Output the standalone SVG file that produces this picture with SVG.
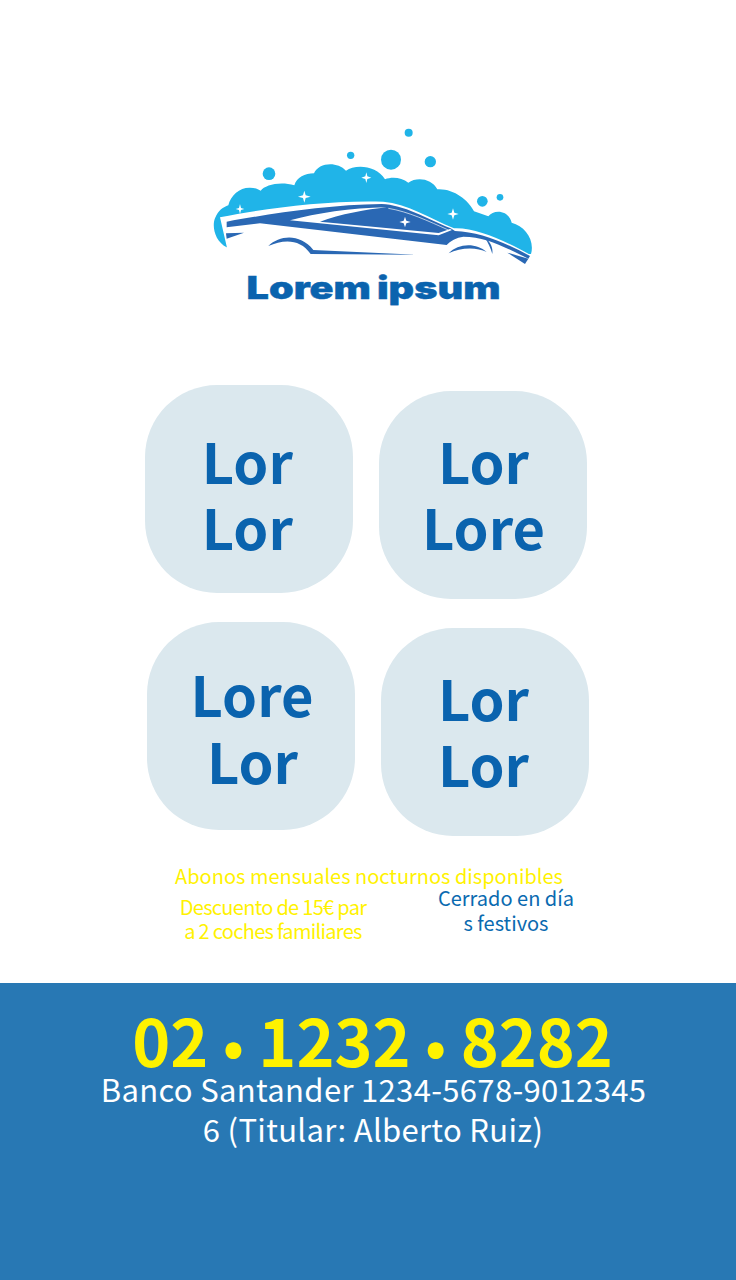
<svg xmlns="http://www.w3.org/2000/svg" width="736" height="1280" viewBox="0 0 736 1280">
<style>
text{font-family:"Noto Sans CJK JP","Noto Sans",sans-serif}
.card{fill:#dbe8ee}
.big{font-size:56px;font-weight:700;fill:#0a63ae;text-anchor:middle}
.foam{fill:#20b4e8}
.car{fill:#2a68b4}
.cut{fill:#fff}
.spark{fill:#fff}
.small{font-size:20px;text-anchor:middle}
</style>
<rect width="736" height="1280" fill="#fff"/>
<g id="logo">
<g transform="translate(200 120) scale(.33333)">
<path class="foam" d="M80 382C45 365 35 320 45 295C55 270 70 262 85 256C92 225 120 202 150 203C165 203 175 208 182 212C195 195 240 183 283 196C290 172 315 160 342 160C355 128 410 122 438 152C465 132 530 135 555 178C575 170 605 172 625 188C650 170 695 175 712 208C760 205 805 240 822 274L865 289C880 268 925 268 935 308C975 318 1005 360 993 402L700 400L100 380Z"/>
<circle class="foam" cx="207" cy="161" r="19"/>
<circle class="foam" cx="452" cy="106" r="11"/>
<circle class="foam" cx="573" cy="119" r="30"/>
<circle class="foam" cx="626" cy="38" r="12"/>
<circle class="foam" cx="691" cy="125" r="17"/>
<circle class="foam" cx="847" cy="244" r="16"/>
<circle class="foam" cx="900" cy="232" r="10"/>
<path class="cut" d="M60 292C200 265 380 240 550 245C620 250 690 295 762 325C830 322 920 365 992 405L972 442L860 410L300 412L82 388Z"/>
<path class="car" d="M80 305C200 283 380 254 545 252C610 254 680 295 752 325L765 333C840 335 920 370 990 408L985 416C920 385 860 350 790 350C770 352 750 364 740 375L180 310L80 322Z"/>
<path class="cut" d="M270 301C350 280 450 264 560 262C500 268 420 283 360 305L716 339L750 327L756 330L716 346Z"/>
<path fill="none" stroke="#fff" stroke-width="2" d="M565 265C625 275 685 303 745 330"/>
<path class="car" d="M78 340L132 338L80 356Z"/>
<path class="car" d="M205 378C240 345 300 340 340 390L650 404L332 402C300 355 250 358 205 378Z"/>
<path class="car" d="M746 400C775 368 830 368 860 396C830 380 780 382 746 400Z"/>
<path class="car" d="M855 354C872 365 880 385 877 402C872 385 865 368 855 354Z"/>
<path class="car" d="M922 398L985 416L975 432Z"/>
<path class="spark" d="M120 252L123 264L133 267L123 270L120 282L117 270L107 267L117 264Z"/>
<path class="spark" d="M313 212L317 226L332 230L317 234L313 248L309 234L294 230L309 226Z"/>
<path class="spark" d="M499 157L502 169L514 173L502 177L499 189L496 177L484 173L496 169Z"/>
<path class="spark" d="M759 265L763 278L776 282L763 286L759 299L755 286L742 282L755 278Z"/>
<path class="spark" d="M615 290L619 302L632 306L619 310L615 322L611 310L598 306L611 302Z"/>
</g>
<text x="373.500" y="299" font-size="31" font-weight="900" fill="#0a63ae" stroke="#0a63ae" stroke-width=".4" text-anchor="middle" textLength="254" lengthAdjust="spacingAndGlyphs" word-spacing="-1.5" style="font-family:Inter,'Liberation Sans',sans-serif">Lorem ipsum</text>
</g>
<g id="card1"><rect class="card" x="145" y="385" width="208" height="208" rx="72"/><text class="big" x="247.300" y="484">Lor</text><text class="big" x="247.300" y="550">Lor</text></g>
<g id="card2"><rect class="card" x="379" y="391" width="208" height="208" rx="72"/><text class="big" x="483.500" y="484">Lor</text><text class="big" x="483.500" y="550">Lore</text></g>
<g id="card3"><rect class="card" x="147" y="622" width="208" height="208" rx="72"/><text class="big" x="252" y="717">Lore</text><text class="big" x="252.500" y="784">Lor</text></g>
<g id="card4"><rect class="card" x="381" y="628" width="208" height="208" rx="72"/><text class="big" x="483.500" y="721">Lor</text><text class="big" x="483.500" y="787">Lor</text></g>
<g id="notes">
<text class="small" x="369" y="884" fill="#fff200">Abonos mensuales nocturnos disponibles</text>
<text class="small" x="273" y="915" fill="#fff200" letter-spacing="-.7">Descuento de 15€ par</text>
<text class="small" x="273" y="939" fill="#fff200" letter-spacing="-.7">a 2 coches familiares</text>
<text class="small" x="506" y="906" fill="#0a6ab0">Cerrado en día</text>
<text class="small" x="506" y="931" fill="#0a6ab0">s festivos</text>
</g>
<g id="footer">
<rect y="983" width="736" height="297" fill="#2878b4"/>
<text x="372.500" y="1067" font-size="64.500" font-weight="700" fill="#fff200" text-anchor="middle">02 <tspan font-size="55">•</tspan> 1232 <tspan font-size="55">•</tspan> 8282</text>
<text x="373.500" y="1102" font-size="31" fill="#fff" text-anchor="middle" letter-spacing=".33">Banco Santander 1234-5678-9012345</text>
<text x="373" y="1142" font-size="31" fill="#fff" text-anchor="middle" letter-spacing=".33">6 (Titular: Alberto Ruiz)</text>
</g>
</svg>
